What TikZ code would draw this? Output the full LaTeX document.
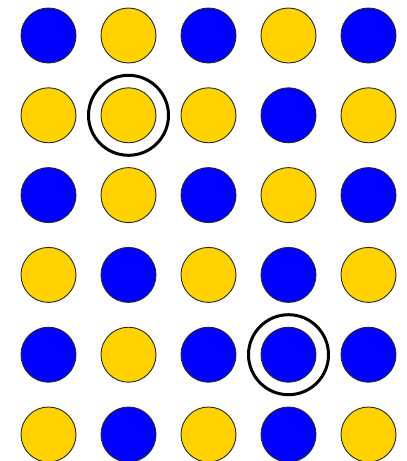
\documentclass[tikz,border=0pt]{standalone}
\definecolor{dotblue}{HTML}{0000FF}
\definecolor{dotyellow}{HTML}{FFD200}
\begin{document}
\begin{tikzpicture}[x=1pt,y=-1pt,
  dot/.style={circle,draw=black!85,line width=0.9pt,minimum size=55pt,inner sep=0pt},
  B/.style={dot,fill=dotblue},
  Y/.style={dot,fill=dotyellow},
  ring/.style={circle,draw=black,line width=3pt,minimum size=80pt,inner sep=0pt}]
\useasboundingbox (0,0) rectangle (407,461);
\foreach \r/\a/\b/\c/\d/\e in {1/B/Y/B/Y/B,2/Y/Y/Y/B/Y,3/B/Y/B/Y/B,4/Y/B/Y/B/Y,5/B/Y/B/B/B,6/Y/B/Y/B/Y}{
  \pgfmathsetmacro{\yy}{35.5+79.8*(\r-1)}
  \node[\a] (d\r-1) at (48.5,\yy) {};
  \node[\b] (d\r-2) at (128.5,\yy) {};
  \node[\c] (d\r-3) at (208.5,\yy) {};
  \node[\d] (d\r-4) at (288.5,\yy) {};
  \node[\e] (d\r-5) at (368.5,\yy) {};
}
\node[ring] (ring1) at (d2-2) {};
\node[ring] (ring2) at (d5-4) {};
\end{tikzpicture}
\end{document}
